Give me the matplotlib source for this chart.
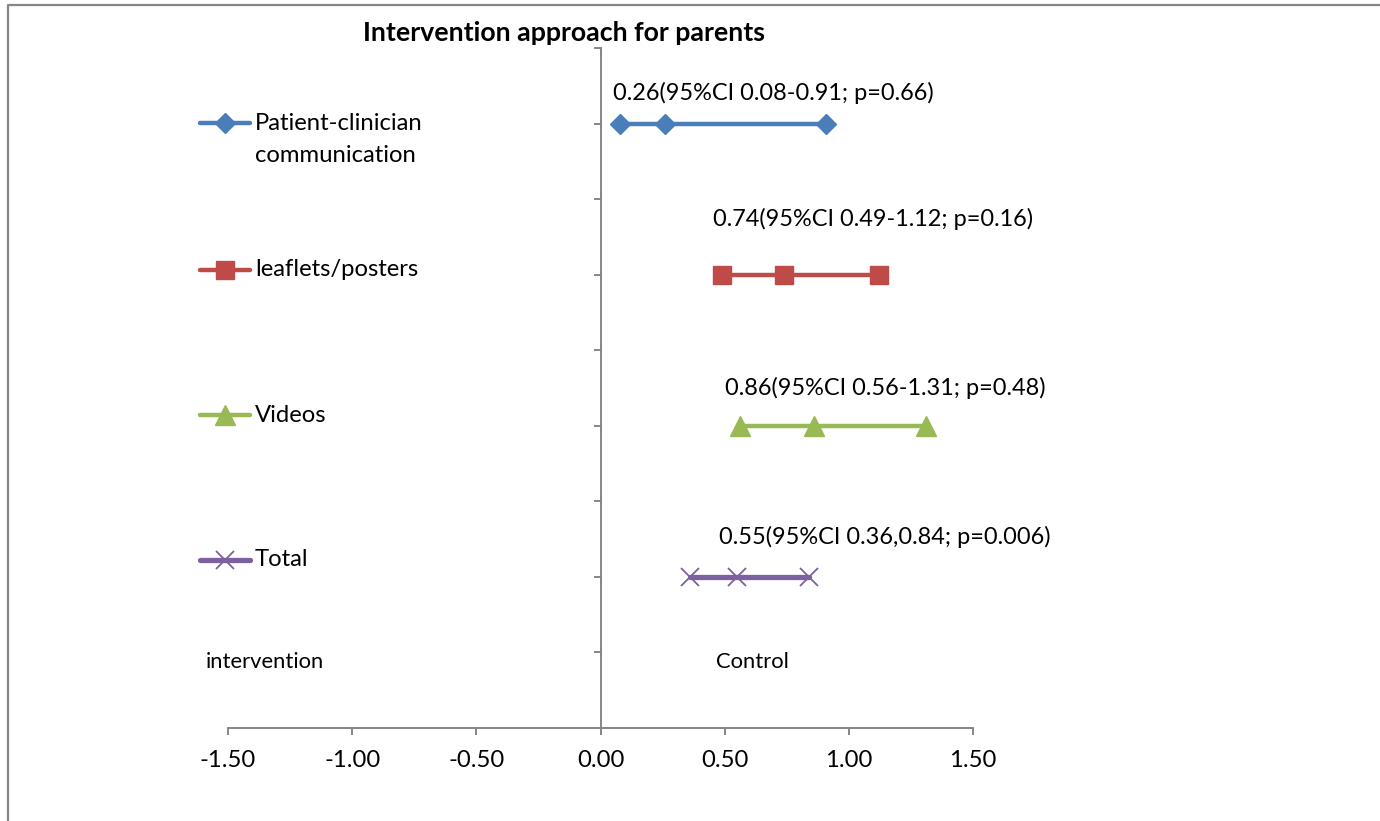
import matplotlib.pyplot as plt
from matplotlib.lines import Line2D

plt.rcParams['font.family'] = ['Lato', 'DejaVu Sans']

# --- data -------------------------------------------------------------
names = ['Patient-clinician\ncommunication', 'leaflets/posters', 'Videos', 'Total']
row_y = [4, 3, 2, 1]
est = [0.26, 0.74, 0.86, 0.55]
ci_low = [0.08, 0.49, 0.56, 0.36]
ci_high = [0.91, 1.12, 1.31, 0.84]
labels = ['0.26(95%CI 0.08-0.91; p=0.66)',
          '0.74(95%CI 0.49-1.12; p=0.16)',
          '0.86(95%CI 0.56-1.31; p=0.48)',
          '0.55(95%CI 0.36,0.84; p=0.006)']
# where each data label sits (data coords, left edge / vertical centre)
label_pos = [(0.05, 4.20), (0.455, 3.37), (0.50, 2.25), (0.478, 1.265)]

colors = ['#4A7EBB', '#BE4B48', '#98B954', '#7D60A0']
markers = ['D', 's', '^', 'x']
msizes = [10, 13, 14, 13]
lwidths = [3.2, 3.2, 3.2, 3.8]

W, H = 1380, 821
fig = plt.figure(figsize=(W / 100, H / 100), dpi=100)
ax = fig.add_axes([228 / W, 1 - 728 / H, (973 - 228) / W, (728 - 48) / H])

for i in range(len(names)):
    xs = [ci_low[i], est[i], ci_high[i]]
    ys = [row_y[i]] * 3
    kw = dict(color=colors[i], lw=lwidths[i], marker=markers[i],
              markersize=msizes[i], solid_capstyle='round', clip_on=False)
    if markers[i] == 'x':
        kw.update(markeredgewidth=1.3)
    ax.plot(xs, ys, **kw)
    ax.text(label_pos[i][0], label_pos[i][1], labels[i], fontsize=16.9,
            ha='left', va='center')

ax.set_xlim(-1.5, 1.5)
ax.set_ylim(0, 4.5)
ax.set_xticks([-1.5, -1.0, -0.5, 0.0, 0.5, 1.0, 1.5])
ax.set_xticklabels([f'{v:.2f}' for v in ax.get_xticks()], fontsize=17.2)
ax.set_yticks([0.5 * k for k in range(1, 10)])
ax.set_yticklabels([])

for s in ['top', 'right']:
    ax.spines[s].set_visible(False)
ax.spines['left'].set_position(('data', 0))
for s in ['left', 'bottom']:
    ax.spines[s].set_color('#868686')
    ax.spines[s].set_linewidth(1.4)
ax.tick_params(axis='both', direction='out', length=5, width=1.4,
               color='#868686', pad=11)
ax.patch.set_visible(False)

ax.text(-1.59, 0.44, 'intervention', fontsize=15.8, ha='left', va='center')
ax.text(0.465, 0.44, 'Control', fontsize=15.8, ha='left', va='center')

# title
fig.text(564 / W, 1 - 33 / H, 'Intervention approach for parents',
         fontsize=19.3, fontweight='bold', ha='center', va='center')

# manual legend on the left
leg_y = [123, 270, 415, 560]
for i in range(len(names)):
    yf = 1 - leg_y[i] / H
    kw = dict(color=colors[i], lw=lwidths[i], marker=markers[i],
              markersize=msizes[i], solid_capstyle='round',
              transform=fig.transFigure, markevery=[1])
    if markers[i] == 'x':
        kw.update(markeredgewidth=1.3)
    fig.add_artist(Line2D([200 / W, 225 / W, 250 / W], [yf, yf, yf], **kw))
    fig.text(255 / W, yf, names[i].split('\n')[0], fontsize=17.2,
             ha='left', va='center')
    if '\n' in names[i]:
        fig.text(255 / W, yf - 32 / H, names[i].split('\n')[1],
                 fontsize=17.2, ha='left', va='center')

# chart-area border (left and top edges visible)
fig.add_artist(Line2D([8 / W, 8 / W, 1.0], [0, 1 - 5 / H, 1 - 5 / H],
                      color='#868686', lw=1.6, transform=fig.transFigure))

fig.savefig('out.png', dpi=100)
